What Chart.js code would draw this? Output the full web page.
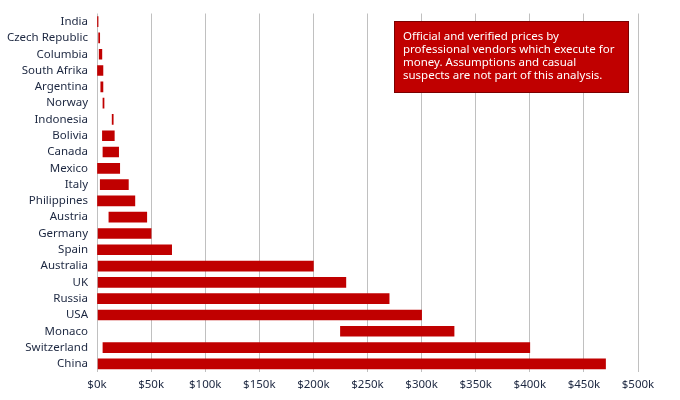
<!DOCTYPE html>
<html>
<head>
<meta charset="utf-8">
<script src="https://cdn.jsdelivr.net/npm/chart.js@4/dist/chart.umd.min.js"></script>
<style>
  body { margin: 0; background: #fff; }
  #wrap { width: 680px; height: 400px; }
</style>
</head>
<body>
<div id="wrap"><canvas id="priceChart" width="680" height="400"></canvas></div>
<script>
// price ranges in $k (low / high)
const countries = ['India', 'Czech Republic', 'Columbia', 'South Afrika', 'Argentina', 'Norway', 'Indonesia',
  'Bolivia', 'Canada', 'Mexico', 'Italy', 'Philippines', 'Austria', 'Germany', 'Spain',
  'Australia', 'UK', 'Russia', 'USA', 'Monaco', 'Switzerland', 'China'];
const lowPrice = [0, 1.5, 2, 0, 3.5, 5.5, 14, 5, 5.5, 0, 3, 0, 11, 1, 0, 1, 1, 0, 1, 225, 5.5, 1];
const highPrice = [1, 2.5, 4.5, 5.5, 5.5, 6.5, 15, 16, 20, 21, 29, 35, 46, 50, 69, 200, 230, 270, 300, 330, 400, 470];
const tickValues = [0, 50, 100, 150, 200, 250, 300, 350, 400, 450, 500];
const noteLines = [
  'Official and verified prices by',
  'professional vendors which execute for',
  'money. Assumptions and casual',
  'suspects are not part of this analysis.'
];

const ranges = countries.map((c, i) => [lowPrice[i], highPrice[i]]);

// red note box in the upper right
const notePlugin = {
  id: 'note',
  afterDraw(chart) {
    const ctx = chart.ctx;
    ctx.save();
    ctx.fillStyle = '#c00000';
    ctx.fillRect(394, 21, 235, 72);
    ctx.strokeStyle = '#7a0000';
    ctx.lineWidth = 1;
    ctx.strokeRect(394.5, 21.5, 234, 71);
    ctx.fillStyle = '#ffffff';
    ctx.font = '11.5px "Noto Sans"';
    ctx.textBaseline = 'middle';
    noteLines.forEach((line, i) => {
      ctx.fillText(line, 403, 37 + i * 12.8);
    });
    ctx.restore();
  }
};

const bgPlugin = {
  id: 'bg',
  beforeDraw(chart) {
    const ctx = chart.ctx;
    ctx.save();
    ctx.fillStyle = '#ffffff';
    ctx.fillRect(0, 0, chart.width, chart.height);
    ctx.restore();
  }
};

new Chart(document.getElementById('priceChart'), {
  type: 'bar',
  data: {
    labels: countries,
    datasets: [{
      data: ranges,
      backgroundColor: '#c00000',
      borderWidth: 0,
      borderSkipped: false,
      barThickness: 10
    }]
  },
  options: {
    indexAxis: 'y',
    responsive: false,
    animation: false,
    layout: { padding: { top: 13.5, right: 42, left: 0, bottom: 0 } },
    plugins: {
      legend: { display: false },
      tooltip: { enabled: false }
    },
    scales: {
      x: {
        min: 0,
        max: 500,
        afterBuildTicks: (scale) => { scale.ticks = tickValues.map(v => ({ value: v })); },
        afterFit: (scale) => { scale.height = 28; },
        grid: { color: '#c0c0c0', drawTicks: false },
        border: { display: false },
        ticks: {
          padding: 6,
          color: '#1c2740',
          font: { family: '"Noto Sans"', size: 11.5 },
          callback: (v) => '$' + v + 'k'
        }
      },
      y: {
        afterFit: (scale) => { scale.width = 97; },
        grid: { display: false },
        border: { display: false },
        ticks: {
          padding: 1,
          autoSkip: false,
          color: '#1c2740',
          font: { family: '"Noto Sans"', size: 11.5 }
        }
      }
    }
  },
  plugins: [bgPlugin, notePlugin]
});
</script>
</body>
</html>
